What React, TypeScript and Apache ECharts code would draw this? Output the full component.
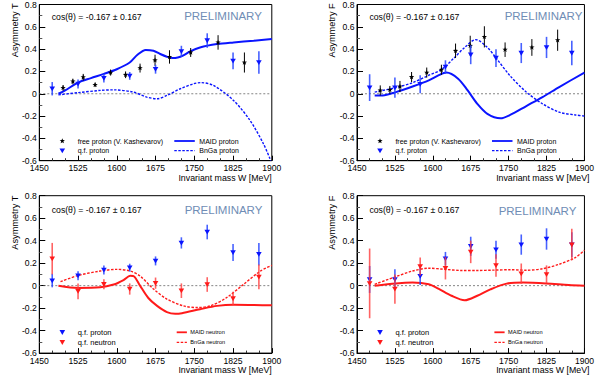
import React, { useEffect, useRef } from "react";
import * as echarts from "echarts";

const FONT = "Liberation Sans, Arial, Helvetica, sans-serif";

// axes
const X_MIN = 1450;
const X_MAX = 1900;
const X_STEP = 75;
const Y_MIN = -0.6;
const Y_MAX = 0.8;
const Y_STEP = 0.2;

// free proton (V. Kashevarov)
const freeW = [1496, 1515, 1535, 1558, 1588, 1617, 1645, 1674, 1702, 1743, 1796, 1847];
const freeT = [0.053, 0.11, 0.148, 0.08, 0.19, 0.17, 0.23, 0.3, 0.33, 0.37, 0.46, 0.28];
const freeTErr = [0.025, 0.025, 0.03, 0.02, 0.027, 0.03, 0.04, 0.05, 0.06, 0.04, 0.065, 0.09];
const freeF = [0.03, 0.035, 0.065, 0.15, 0.19, 0.215, 0.385, 0.43, 0.51, 0.395, 0.415, 0.48];
const freeFErr = [0.045, 0.035, 0.05, 0.045, 0.045, 0.045, 0.065, 0.09, 0.095, 0.065, 0.075, 0.095];

// quasi-free
const qfW = [1475, 1525, 1575, 1625, 1675, 1725, 1775, 1825, 1875];
const qfPT = [0.045, 0.088, 0.14, 0.16, 0.22, 0.38, 0.477, 0.295, 0.28];
const qfPTErr = [0.06, 0.04, 0.04, 0.035, 0.04, 0.05, 0.065, 0.075, 0.1];
const qfNT = [0.24, -0.05, 0.012, -0.03, 0.022, -0.045, 0.01, -0.115, 0.077];
const qfNTErr = [0.14, 0.07, 0.045, 0.05, 0.05, 0.065, 0.065, 0.06, 0.11];
const qfPF = [0.055, 0.055, 0.085, 0.24, 0.35, 0.32, 0.365, 0.415, 0.365];
const qfPFErr = [0.12, 0.09, 0.08, 0.06, 0.085, 0.08, 0.09, 0.095, 0.11];
const qfNF = [0.02, -0.03, 0.17, 0.155, 0.3, 0.18, 0.107, 0.1, 0.365];
const qfNFErr = [0.31, 0.13, 0.08, 0.1, 0.1, 0.1, 0.09, 0.08, 0.14];

// model curves
const maidPTW = [1487, 1500, 1525, 1550, 1575, 1600, 1625, 1640, 1656, 1671, 1684, 1697, 1708, 1718, 1728, 1742, 1761, 1794, 1826, 1865, 1900];
const maidPT = [0.0, 0.03, 0.1, 0.14, 0.178, 0.22, 0.28, 0.35, 0.393, 0.385, 0.356, 0.332, 0.32, 0.325, 0.342, 0.38, 0.415, 0.445, 0.46, 0.475, 0.49];
const bngaPTW = [1487, 1525, 1568, 1594, 1632, 1658, 1678, 1697, 1723, 1749, 1762, 1787, 1826, 1858, 1884, 1898];
const bngaPT = [-0.01, 0.01, 0.03, 0.035, 0.015, -0.03, -0.045, -0.015, 0.045, 0.09, 0.1, 0.075, -0.06, -0.24, -0.45, -0.6];

const maidPFW = [1485, 1501, 1527, 1560, 1592, 1611, 1627, 1650, 1669, 1688, 1708, 1734, 1753, 1785, 1817, 1850, 1900];
const maidPF = [-0.015, -0.015, 0.015, 0.065, 0.12, 0.165, 0.19, 0.135, 0.03, -0.09, -0.18, -0.22, -0.19, -0.11, -0.03, 0.06, 0.19];
const bngaPFW = [1485, 1527, 1560, 1592, 1618, 1643, 1663, 1685, 1708, 1727, 1753, 1785, 1817, 1850, 1882, 1900];
const bngaPF = [0.015, 0.055, 0.1, 0.165, 0.22, 0.325, 0.415, 0.485, 0.415, 0.31, 0.16, 0.015, -0.09, -0.165, -0.19, -0.2];

const maidNTW = [1487, 1525, 1568, 1594, 1613, 1626, 1634, 1645, 1661, 1678, 1697, 1713, 1726, 1761, 1794, 1826, 1900];
const maidNT = [0, -0.02, -0.015, 0.01, 0.05, 0.088, 0.08, 0.0, -0.11, -0.18, -0.235, -0.25, -0.245, -0.21, -0.18, -0.17, -0.175];
const bngaNTW = [1491, 1525, 1568, 1600, 1626, 1645, 1671, 1697, 1729, 1755, 1781, 1813, 1845, 1878, 1900];
const bngaNT = [0.035, 0.09, 0.13, 0.145, 0.13, 0.085, -0.03, -0.12, -0.18, -0.195, -0.18, -0.105, 0.01, 0.13, 0.18];

const maidNFW = [1485, 1527, 1560, 1592, 1611, 1637, 1663, 1688, 1714, 1746, 1779, 1824, 1869, 1900];
const maidNF = [0, 0.02, 0.027, 0.012, -0.027, -0.09, -0.13, -0.09, -0.033, 0.018, 0.027, 0.02, 0.006, 0];
const bngaNFW = [1485, 1527, 1560, 1592, 1624, 1656, 1688, 1721, 1753, 1785, 1817, 1850, 1882, 1900];
const bngaNF = [0.012, 0.08, 0.13, 0.155, 0.145, 0.135, 0.135, 0.138, 0.142, 0.137, 0.15, 0.19, 0.25, 0.315];

const cosText = "cos(\u03b8) = -0.167 \u00b1 0.167";
const yTitles = ["Asymmetry T", "Asymmetry F", "Asymmetry T", "Asymmetry F"];
const xTitle = "Invariant mass W [MeV]";

// layout
const GRID_W = 232.5;
const GRID_H = 157.4;
const GRIDS = [
  [39.3, 3.3],
  [357, 3.3],
  [39.3, 195.7],
  [357, 195.7],
];
const PRELIM_POS = [
  [223, 16],
  [543.5, 16],
  [223.5, 209.5],
  [537.5, 210.5],
];

const BLUE = "#0a14ff";
const BLUE_ERR = "rgba(40,70,255,0.85)";
const RED = "#ff1a1a";
const RED_ERR = "rgba(255,60,60,0.8)";

function triPts(cx: number, cy: number) {
  return [
    [cx - 2.8, cy - 2.2],
    [cx + 2.8, cy - 2.2],
    [cx, cy + 2.6],
  ];
}
function starPts(cx: number, cy: number) {
  const pts: number[][] = [];
  for (let i = 0; i < 10; i++) {
    const r = i % 2 === 0 ? 2.8 : 1.15;
    const a = -Math.PI / 2 + (i * Math.PI) / 5;
    pts.push([cx + r * Math.cos(a), cy + r * Math.sin(a)]);
  }
  return pts;
}

function points(idx: number, W: number[], V: number[], E: number[], kind: string, color: string, errColor: string) {
  return {
    type: "custom",
    xAxisIndex: idx,
    yAxisIndex: idx,
    dimensions: ["w", "v", "e"],
    encode: { x: 0, y: 1 },
    data: W.map((w, i) => [w, V[i], E[i]]),
    z: 5,
    silent: true,
    renderItem: (params: any, api: any) => {
      const x = api.value(0);
      const y = api.value(1);
      const e = api.value(2);
      const c = api.coord([x, y]);
      const t = api.coord([x, y + e]);
      const b = api.coord([x, y - e]);
      return {
        type: "group",
        children: [
          {
            type: "line",
            shape: { x1: c[0], y1: t[1], x2: c[0], y2: b[1] },
            style: { stroke: errColor, lineWidth: kind === "star" ? 1 : 1.6 },
          },
          {
            type: "polygon",
            shape: { points: kind === "star" ? starPts(c[0], c[1]) : triPts(c[0], c[1]) },
            style: { fill: color },
          },
        ],
      };
    },
  };
}

function curve(idx: number, W: number[], V: number[], color: string, dashed: boolean) {
  return {
    type: "line",
    xAxisIndex: idx,
    yAxisIndex: idx,
    data: W.map((w, i) => [w, V[i]]),
    smooth: 0.3,
    showSymbol: false,
    symbol: "none",
    silent: true,
    z: 3,
    lineStyle: { color, width: dashed ? 1.4 : 2, type: dashed ? [2.5, 1.5] : "solid" },
  };
}

function zeroLine(idx: number) {
  return {
    type: "line",
    xAxisIndex: idx,
    yAxisIndex: idx,
    data: [
      [X_MIN, 0],
      [X_MAX, 0],
    ],
    showSymbol: false,
    symbol: "none",
    silent: true,
    z: 2,
    lineStyle: { color: "#666", width: 0.8, type: [2, 2] },
  };
}

function legendGraphics(p: number) {
  const [ox, oy] = GRIDS[p];
  const els: any[] = [];
  const top = p < 2;
  const r1 = oy + (top ? 137.7 : 136.6);
  const r2 = oy + (top ? 147.4 : 146.6);
  const mx = ox + 23;
  const tx = ox + 38.4;
  const leftFs = top ? 7 : 7.5;
  const left = top
    ? [
        { kind: "star", color: "#000", text: "free proton (V. Kashevarov)" },
        { kind: "tri", color: BLUE, text: "q.f. proton" },
      ]
    : [
        { kind: "tri", color: BLUE, text: "q.f. proton" },
        { kind: "tri", color: RED, text: "q.f. neutron" },
      ];
  const lc = top ? BLUE : RED;
  const right = top
    ? [
        { dashed: false, text: "MAID proton" },
        { dashed: true, text: "BnGa proton" },
      ]
    : [
        { dashed: false, text: "MAID neutron" },
        { dashed: true, text: "BnGa neutron" },
      ];
  [r1, r2].forEach((ry, i) => {
    const it = left[i];
    els.push({
      type: "polygon",
      shape: { points: it.kind === "star" ? starPts(mx, ry) : triPts(mx, ry) },
      style: { fill: it.color },
    });
    els.push({
      type: "text",
      x: tx,
      y: ry,
      style: { text: it.text, fontSize: leftFs, fontFamily: FONT, fill: "#000", align: "left", verticalAlign: "middle" },
    });
    const rt = right[i];
    const l0 = ox + (top ? 135 : 137.4);
    const l1 = ox + (top ? 155.5 : 147.6);
    els.push({
      type: "line",
      shape: { x1: l0, y1: ry, x2: l1, y2: ry },
      style: { stroke: lc, lineWidth: rt.dashed ? 1.3 : 1.8, lineDash: rt.dashed ? [2.5, 1.5] : null },
    });
    els.push({
      type: "text",
      x: ox + (top ? 160 : 151),
      y: ry,
      style: { text: rt.text, fontSize: top ? 7 : 5.6, fontFamily: FONT, fill: "#000", align: "left", verticalAlign: "middle" },
    });
  });
  return els;
}

export default function App() {
  const ref = useRef<HTMLDivElement>(null);
  useEffect(() => {
    if (!ref.current) return;
    const chart = echarts.init(ref.current, undefined, { renderer: "svg" });

    const grid = GRIDS.map(([l, t]) => ({
      left: l,
      top: t,
      width: GRID_W,
      height: GRID_H,
      show: true,
      borderColor: "#000",
      borderWidth: 1,
      backgroundColor: "transparent",
      containLabel: false,
    }));

    const xAxis = GRIDS.map((_, i) => ({
      gridIndex: i,
      type: "value",
      min: X_MIN,
      max: X_MAX,
      interval: X_STEP,
      axisLine: { show: true, onZero: false, lineStyle: { color: "#000", width: 1 } },
      axisTick: { show: true, inside: true, length: 5, lineStyle: { color: "#000", width: 1 } },
      minorTick: { show: true, splitNumber: 3, length: 2.5, lineStyle: { color: "#333", width: 1 } },
      splitLine: { show: false },
      minorSplitLine: { show: false },
      axisLabel: {
        fontSize: 8.6,
        color: "#000",
        fontFamily: FONT,
        margin: 3,
        formatter: (v: number) => String(Math.round(v)),
      },
    }));

    const yAxis = GRIDS.map((_, i) => ({
      gridIndex: i,
      type: "value",
      min: Y_MIN,
      max: Y_MAX,
      interval: Y_STEP,
      axisLine: { show: true, onZero: false, lineStyle: { color: "#000", width: 1 } },
      axisTick: { show: true, inside: true, length: 6, lineStyle: { color: "#000", width: 1 } },
      minorTick: { show: true, splitNumber: 2, length: 3, lineStyle: { color: "#555", width: 1 } },
      splitLine: { show: false },
      minorSplitLine: { show: false },
      axisLabel: {
        fontSize: 8.6,
        color: "#000",
        fontFamily: FONT,
        margin: 2.5,
        formatter: (v: number) => String(Math.round(v * 10) / 10),
      },
    }));

    const series: any[] = [];
    for (let i = 0; i < 4; i++) series.push(zeroLine(i));
    // panel 0: T proton
    series.push(curve(0, maidPTW, maidPT, BLUE, false));
    series.push(curve(0, bngaPTW, bngaPT, BLUE, true));
    series.push(points(0, freeW, freeT, freeTErr, "star", "#000", "#000"));
    series.push(points(0, qfW, qfPT, qfPTErr, "tri", BLUE, BLUE_ERR));
    // panel 1: F proton
    series.push(curve(1, maidPFW, maidPF, BLUE, false));
    series.push(curve(1, bngaPFW, bngaPF, BLUE, true));
    series.push(points(1, freeW, freeF, freeFErr, "star", "#000", "#000"));
    series.push(points(1, qfW, qfPF, qfPFErr, "tri", BLUE, BLUE_ERR));
    // panel 2: T neutron
    series.push(curve(2, maidNTW, maidNT, RED, false));
    series.push(curve(2, bngaNTW, bngaNT, RED, true));
    series.push(points(2, qfW, qfPT, qfPTErr, "tri", BLUE, BLUE_ERR));
    series.push(points(2, qfW, qfNT, qfNTErr, "tri", RED, RED_ERR));
    // panel 3: F neutron
    series.push(curve(3, maidNFW, maidNF, RED, false));
    series.push(curve(3, bngaNFW, bngaNF, RED, true));
    series.push(points(3, qfW, qfPF, qfPFErr, "tri", BLUE, BLUE_ERR));
    series.push(points(3, qfW, qfNF, qfNFErr, "tri", RED, RED_ERR));

    const graphic: any[] = [];
    GRIDS.forEach(([ox, oy], p) => {
      graphic.push({
        type: "text",
        x: ox + 12.4,
        y: oy + 14,
        style: { text: cosText, fontSize: 8.7, fontFamily: FONT, fill: "#000", align: "left", verticalAlign: "middle" },
      });
      graphic.push({
        type: "text",
        x: PRELIM_POS[p][0],
        y: PRELIM_POS[p][1],
        style: { text: "PRELIMINARY", fontSize: 11.5, fontFamily: FONT, fill: "#6f8db5", align: "center", verticalAlign: "middle" },
      });
      graphic.push({
        type: "text",
        x: p % 2 === 0 ? 15 : 332,
        y: oy,
        rotation: Math.PI / 2,
        style: { text: yTitles[p], fontSize: 9.2, fontFamily: FONT, fill: "#000", align: "right", verticalAlign: "middle" },
      });
      graphic.push({
        type: "text",
        x: ox + GRID_W,
        y: oy + 174.4,
        style: { text: xTitle, fontSize: 8.8, fontFamily: FONT, fill: "#000", align: "right", verticalAlign: "middle" },
      });
      legendGraphics(p).forEach((e) => graphic.push(e));
    });

    chart.setOption({
      animation: false,
      backgroundColor: "#fff",
      grid,
      xAxis,
      yAxis,
      series,
      graphic,
    });
    return () => chart.dispose();
  }, []);
  return <div ref={ref} style={{ position: "absolute", left: 0, top: 0, width: 597, height: 379 }} />;
}
